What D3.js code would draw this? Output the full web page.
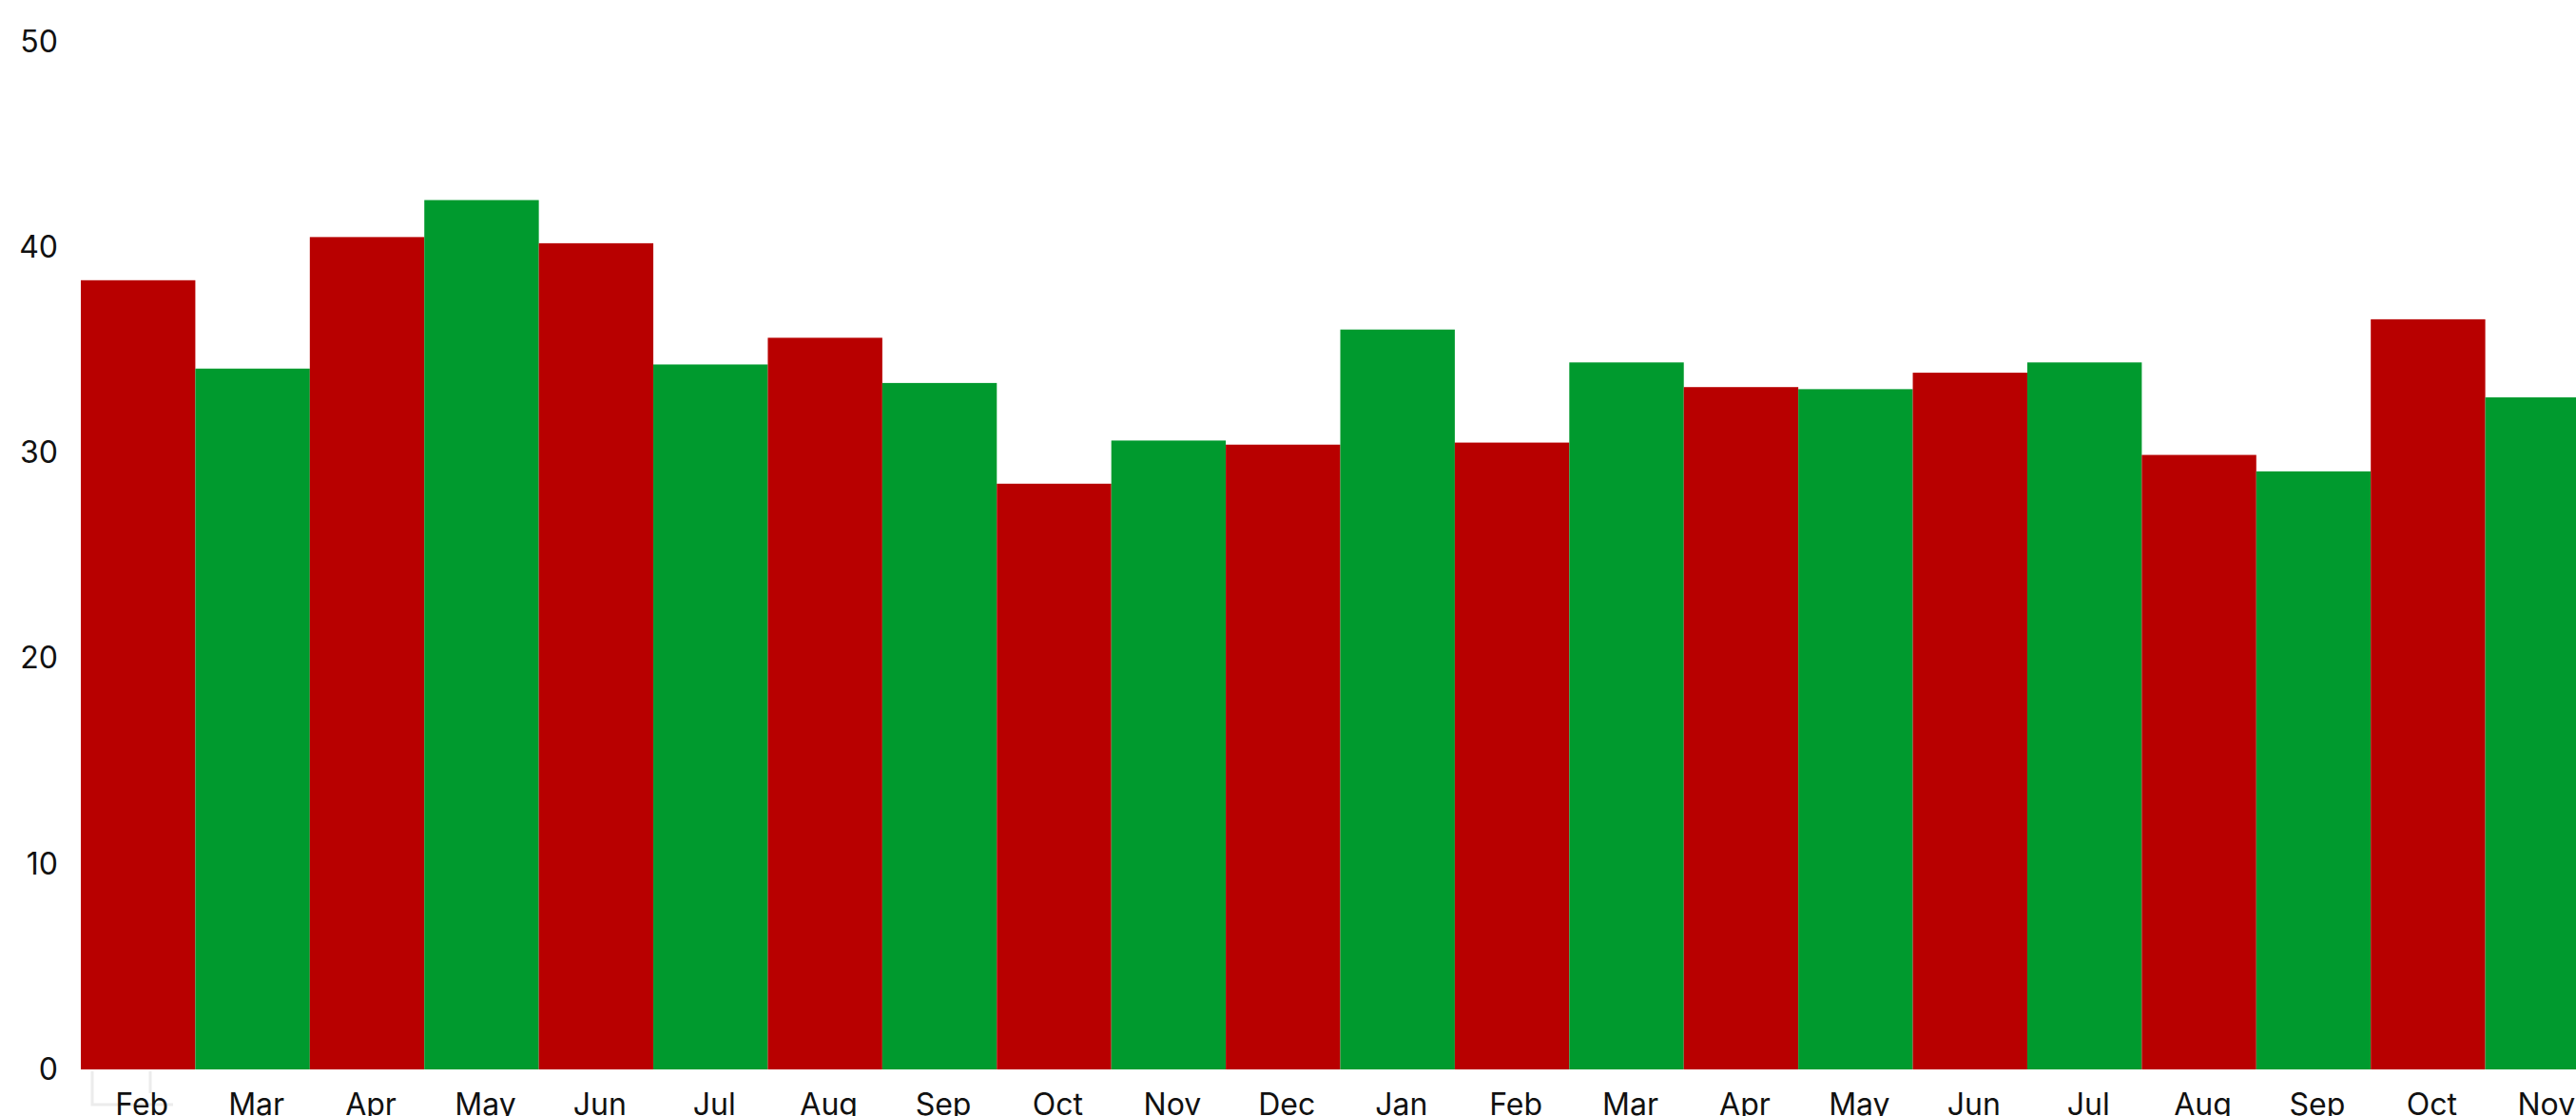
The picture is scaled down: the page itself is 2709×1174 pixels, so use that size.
<!DOCTYPE html>
<html>
<head>
<meta charset="utf-8">
<script src="https://cdn.jsdelivr.net/npm/d3@7"></script>
<style>
  html, body { margin: 0; padding: 0; background: #fff; overflow: hidden; }
  svg { display: block; }
  .axis text { font-family: Inter, "Noto Sans", sans-serif; font-size: 32px; fill: #111; }
</style>
</head>
<body>
<div id="chart"></div>
<script>
var months = ["Feb", "Mar", "Apr", "May", "Jun", "Jul", "Aug", "Sep", "Oct", "Nov", "Dec",
              "Jan", "Feb", "Mar", "Apr", "May", "Jun", "Jul", "Aug", "Sep", "Oct", "Nov"]
var values = [38.4, 34.1, 40.5, 42.3, 40.2, 34.3, 35.6, 33.4, 28.5, 30.6, 30.4,
              36.0, 30.5, 34.4, 33.2, 33.1, 33.9, 34.4, 29.9, 29.1, 36.5, 32.7]
var yTicks = [0, 10, 20, 30, 40, 50]

var width = 2709
var height = 1174
var marginLeft = 85
var plotRight = 2734   // last bar runs past the window edge
var plotBottom = 1125
var plotTop = 44

var data = months.map((m, i) => ({ key: i, month: m, value: values[i] }))

var svg = d3.select("#chart").append("svg")
  .attr("width", width)
  .attr("height", height)

var x = d3.scaleBand()
  .domain(data.map(d => d.key))
  .range([marginLeft, plotRight])
  .padding(0)

var y = d3.scaleLinear()
  .domain([0, 50])
  .range([plotBottom, plotTop])

//bars, colour flips every month
svg.append("g")
  .selectAll("rect")
  .data(data)
  .enter()
  .append("rect")
  .attr("x", d => x(d.key))
  .attr("y", d => y(d.value))
  .attr("width", x.bandwidth())
  .attr("height", d => y(0) - y(d.value))
  .attr("fill", (d, i) => i % 2 === 0 ? "#b80000" : "#009a2e")

//faint bracket under the first bar
var x0 = x(0)
svg.append("path")
  .attr("d", `M${x0 + 12},${plotBottom + 2}V${plotBottom + 37}H${x0 + 97}M${x0 + 73},${plotBottom + 2}V${plotBottom + 25}`)
  .attr("fill", "none")
  .attr("stroke", "#ececec")
  .attr("stroke-width", 3)

var yAxis = svg.append("g")
  .attr("class", "axis")
  .attr("transform", `translate(${marginLeft},0)`)
  .call(d3.axisLeft(y).tickValues(yTicks).tickSize(0).tickPadding(24))
yAxis.select(".domain").remove()

var xAxis = svg.append("g")
  .attr("class", "axis")
  .attr("transform", `translate(0,${plotBottom})`)
  .call(d3.axisBottom(x).tickSize(0).tickPadding(25).tickFormat(k => months[k]))
xAxis.select(".domain").remove()
xAxis.selectAll("text").attr("dx", 4)
</script>
</body>
</html>
